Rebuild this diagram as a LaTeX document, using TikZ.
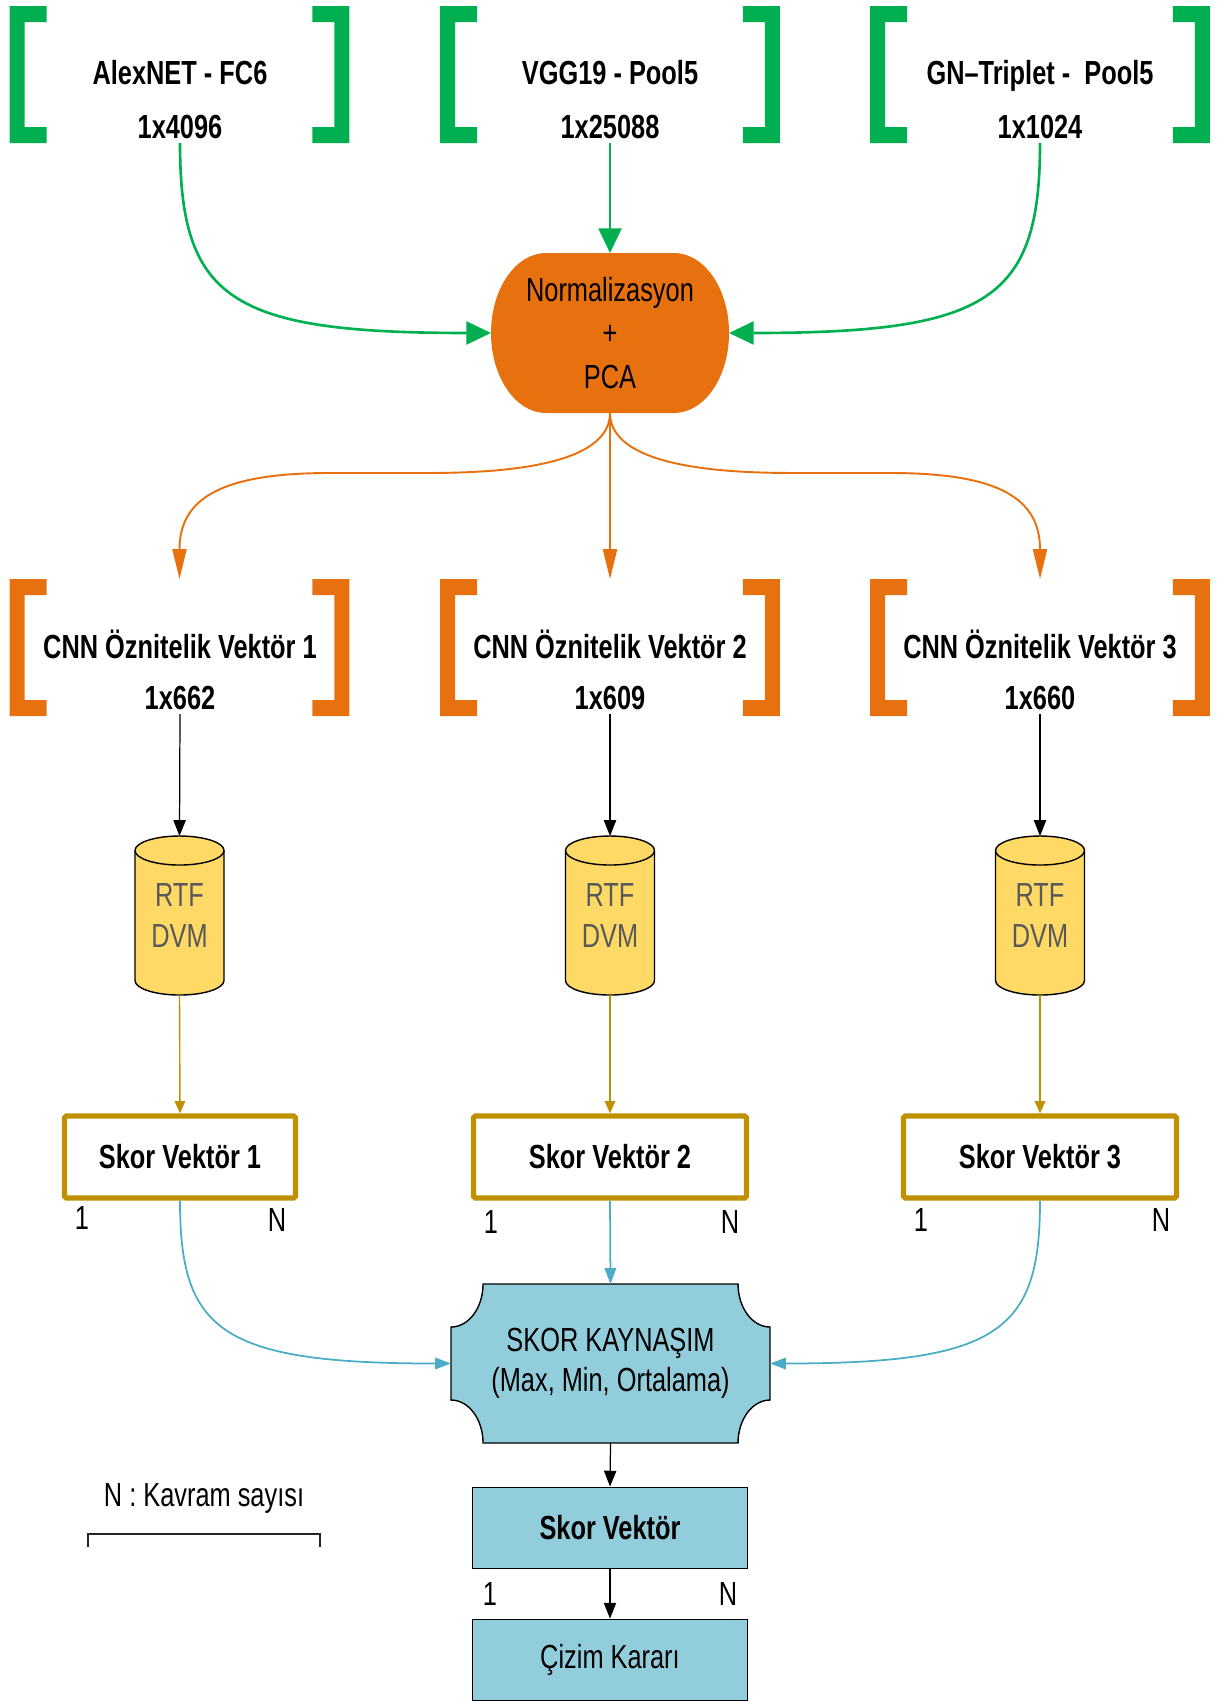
\documentclass[tikz,border=0pt]{standalone}
\usepackage{fontspec}
\setmainfont{Liberation Sans}[FakeStretch=0.76]
\usetikzlibrary{arrows.meta}
\pgfdeclarelayer{background}
\pgfsetlayers{background,main}

\definecolor{grn}{HTML}{00B050}
\definecolor{org}{HTML}{E8710F}
\definecolor{cyl}{HTML}{FFD966}
\definecolor{gold}{HTML}{BF9000}
\definecolor{lblue}{HTML}{92CDDC}
\definecolor{dblue}{HTML}{4BACC6}
\definecolor{txtgray}{HTML}{595959}

% square brackets on both sides of a frame node
\newcommand\framebrackets[2]{%
  \fill[#2] (#1.north west) -- ++(37,0) -- ++(0,16) -- ++(-22,0) -- ++(0,105)
     -- ++(22,0) -- ++(0,16) -- ++(-37,0) -- cycle;
  \fill[#2] (#1.north east) -- ++(-37,0) -- ++(0,16) -- ++(22,0) -- ++(0,105)
     -- ++(-22,0) -- ++(0,16) -- ++(37,0) -- cycle;}

% database drum drawn round a cylinder node
\newcommand\drumshape[1]{%
  \filldraw[fill=cyl, draw=black, line width=0.8pt] (#1.north west) ++(0,14.5) -- ++(0,130)
     arc[start angle=180, end angle=0, x radius=44.5, y radius=14.5] -- ++(0,-130)
     arc[start angle=0, end angle=-180, x radius=44.5, y radius=14.5] -- cycle;
  \draw[line width=0.8pt] (#1.north west) ++(0,14.5)
     arc[start angle=180, end angle=0, x radius=44.5, y radius=14.5];}

\begin{document}
\begin{tikzpicture}[x=0.02cm, y=-0.02cm,
  every node/.style={inner sep=0pt, outer sep=0pt, font=\fontsize{19}{24}\selectfont},
  frm/.style={minimum width=6.8cm, minimum height=2.74cm},
  hdr/.style={font=\bfseries\fontsize{19}{30.6}\selectfont, align=center, anchor=south, outer ysep=2.5pt},
  hdrb/.style={font=\bfseries\fontsize{19}{28.9}\selectfont, align=center, anchor=south, outer ysep=2.5pt},
  normnode/.style={minimum width=4.76cm, minimum height=3.2cm, align=center, font=\fontsize{19}{24.7}\selectfont},
  cylnode/.style={minimum width=1.78cm, minimum height=3.18cm, align=center, text=txtgray, font=\fontsize{19}{23.2}\selectfont},
  skorbox/.style={draw=gold, line width=3pt, rounded corners=1pt, minimum width=5.46cm, minimum height=1.64cm, outer sep=1.5pt, font=\bfseries\fontsize{19}{24}\selectfont},
  kaynode/.style={minimum width=6.38cm, minimum height=3.18cm, align=center, font=\fontsize{19}{22.7}\selectfont},
  bluebox/.style={draw=black, fill=lblue, line width=0.8pt, minimum width=5.5cm, minimum height=1.63cm, outer sep=0.4pt},
  garr/.style={draw=grn, line width=1.5pt, -{Triangle[length=14pt, width=13pt]}},
  oarr/.style={draw=org, line width=1.1pt, -{Triangle[length=17pt, width=8pt]}},
  karr/.style={draw=black, line width=0.7pt, -{Triangle[length=9pt, width=7pt]}},
  yarr/.style={draw=gold, line width=0.8pt, -{Triangle[length=7pt, width=6pt]}},
  barr/.style={draw=dblue, line width=1pt, -{Triangle[length=9pt, width=6.5pt]}}]

\useasboundingbox (0,0) rectangle (1216,1702);

% bracket frames
\node[frm] (g1) at (179.5,74.5) {};
\node[frm] (g2) at (610,74.5) {};
\node[frm] (g3) at (1040,74.5) {};
\node[frm] (o1) at (179.5,647.5) {};
\node[frm] (o2) at (610,647.5) {};
\node[frm] (o3) at (1040,647.5) {};

% feature texts
\node[hdr] (t1) at (180,143) {AlexNET - FC6\\1x4096};
\node[hdr] (t2) at (610,143) {VGG19 - Pool5\\1x25088};
\node[hdr] (t3) at (1040,143) {GN–Triplet -\ \ Pool5\\1x1024};
\node[hdrb] (u1) at (180,714) {CNN Öznitelik Vektör 1\\1x662};
\node[hdrb] (u2) at (610,714) {CNN Öznitelik Vektör 2\\1x609};
\node[hdrb] (u3) at (1040,714) {CNN Öznitelik Vektör 3\\1x660};

% processing blocks
\node[normnode] (norm) at (610,333) {Normalizasyon\\+\\PCA};
\node[cylnode] (c1) at (179.5,915.5) {RTF\\DVM};
\node[cylnode] (c2) at (610,915.5) {RTF\\DVM};
\node[cylnode] (c3) at (1040,915.5) {RTF\\DVM};
\node[skorbox, minimum width=4.62cm] (s1) at (180,1157) {Skor Vektör 1};
\node[skorbox] (s2) at (610,1157) {Skor Vektör 2};
\node[skorbox] (s3) at (1040,1157) {Skor Vektör 3};
\node[kaynode] (kay) at (610.5,1363.5) {SKOR KAYNAŞIM\\(Max, Min, Ortalama)};
\node[bluebox] (fin) at (610,1528) {\bfseries Skor Vektör};
\node[bluebox] (dec) at (610,1660) {Çizim Kararı};

% vector index labels
\node (a1) at (82,1218) {1};
\node (b1) at (277,1220) {N};
\node (a2) at (491,1222) {1};
\node (b2) at (730,1222) {N};
\node (a3) at (921,1220) {1};
\node (b3) at (1161,1220) {N};
\node (a4) at (490,1594) {1};
\node (b4) at (728,1594) {N};

% legend
\node (leg) at (204,1498) {N : Kavram sayısı};
\draw[black!85, line width=0.8pt] (88,1547) -- (88,1534) -- (320,1534) -- (320,1547);

% shapes behind the texts
\begin{pgfonlayer}{background}
  \framebrackets{g1}{grn}
  \framebrackets{g2}{grn}
  \framebrackets{g3}{grn}
  \framebrackets{o1}{org}
  \framebrackets{o2}{org}
  \framebrackets{o3}{org}
  \fill[org] (norm.north west) ++(55,0) -- ++(128,0)
     arc[start angle=-90, end angle=90, x radius=55, y radius=80] -- ++(-128,0)
     arc[start angle=90, end angle=270, x radius=55, y radius=80] -- cycle;
  \drumshape{c1}
  \drumshape{c2}
  \drumshape{c3}
  \filldraw[fill=lblue, draw=black, line width=0.8pt] (kay.north west) ++(32,0) -- ++(255,0)
     arc[start angle=180, end angle=90, x radius=32, y radius=43] -- ++(0,73)
     arc[start angle=270, end angle=180, x radius=32, y radius=43] -- ++(-255,0)
     arc[start angle=0, end angle=-90, x radius=32, y radius=43] -- ++(0,-73)
     arc[start angle=90, end angle=0, x radius=32, y radius=43] -- cycle;
\end{pgfonlayer}

% green connectors into normalisation
\draw[garr] (t1.south) .. controls +(0,157) and +(-260,0) .. (norm.west);
\draw[garr] (t2.south) -- (norm.north);
\draw[garr] (t3.south) .. controls +(0,157) and +(260,0) .. (norm.east);

% orange fan-out
\coordinate (fl1) at (420,473);
\coordinate (fl2) at (330,473);
\coordinate (fr1) at (800,473);
\coordinate (fr2) at (890,473);
\draw[oarr] (norm.south) .. controls +(0,60) and +(50,0) .. (fl1) -- (fl2)
   .. controls +(-110,0) and +(0,-80) .. (o1.north);
\draw[oarr] (norm.south) -- (o2.north);
\draw[oarr] (norm.south) .. controls +(0,60) and +(-50,0) .. (fr1) -- (fr2)
   .. controls +(110,0) and +(0,-80) .. (o3.north);

% feature vectors into classifiers
\draw[karr] (u1.south) -- (c1.north);
\draw[karr] (u2.south) -- (c2.north);
\draw[karr] (u3.south) -- (c3.north);

% classifiers into score vectors
\draw[yarr] (c1.south) -- (s1.north);
\draw[yarr] (c2.south) -- (s2.north);
\draw[yarr] (c3.south) -- (s3.north);

% score fusion
\draw[barr] (s1.south) .. controls +(0,130) and +(-231,0) .. (kay.west);
\draw[barr] (s2.south) -- (kay.north);
\draw[barr] (s3.south) .. controls +(0,130) and +(230,0) .. (kay.east);

% final decision chain
\draw[karr] (kay.south) -- (fin.north);
\draw[karr] (fin.south) -- (dec.north);
\end{tikzpicture}
\end{document}
